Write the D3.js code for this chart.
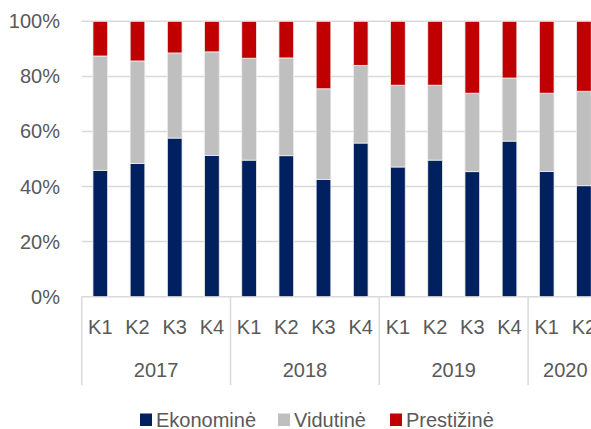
<!DOCTYPE html>
<html>
<head>
<meta charset="utf-8">
<script src="https://d3js.org/d3.v7.min.js"></script>
<style>
    body { margin: 0; background: #fff; }
    svg { display: block; }
    text { font-family: "Liberation Sans", Arial, sans-serif; fill: #595959; }
</style>
</head>
<body>
<svg width="591" height="429"></svg>
<script>
    // data (percent shares per quarter)
    const years = ["2017", "2018", "2019", "2020"];
    const quartersPerYear = [4, 4, 4, 2];
    const quarters = ["K1", "K2", "K3", "K4", "K1", "K2", "K3", "K4", "K1", "K2", "K3", "K4", "K1", "K2"];
    const ekonomine = [45.9, 48.4, 57.6, 51.3, 49.6, 51.2, 42.6, 55.8, 47.1, 49.6, 45.4, 56.5, 45.5, 40.3];
    const vidutine = [41.5, 37.2, 30.9, 37.6, 37.0, 35.5, 32.9, 28.2, 29.7, 27.2, 28.5, 22.9, 28.4, 34.3];
    const prestizine = [12.6, 14.4, 11.5, 11.1, 13.4, 13.3, 24.5, 16.0, 23.2, 23.2, 26.1, 20.6, 26.1, 25.4];
    const seriesNames = ["Ekonominė", "Vidutinė", "Prestižinė"];
    const colors = ["#002060", "#BFBFBF", "#C00000"];
    const yTicks = [0, 20, 40, 60, 80, 100];

    const svg = d3.select("svg");

    // plot area (the right part is cut off like in the original)
    const plotLeft = 81.7, step = 37.2;
    const plotRight = plotLeft + step * quarters.length;
    const plotTop = 21.3, plotBottom = 296.7;

    const rows = quarters.map((q, i) => ({
        idx: i, q: q,
        "Ekonominė": ekonomine[i], "Vidutinė": vidutine[i], "Prestižinė": prestizine[i]
    }));

    const x = d3.scaleBand()
        .domain(rows.map(d => d.idx))
        .range([plotLeft, plotRight])
        .paddingInner(0.605)
        .paddingOuter(0.3025);

    const y = d3.scaleLinear().domain([0, 100]).range([plotBottom, plotTop]);

    // gridlines
    svg.append("g")
        .selectAll("line")
        .data(yTicks)
        .join("line")
        .attr("x1", plotLeft).attr("x2", plotRight)
        .attr("y1", d => y(d)).attr("y2", d => y(d))
        .attr("stroke", "#d9d9d9")
        .attr("stroke-width", 1.5);

    // y labels
    svg.append("g")
        .selectAll("text")
        .data(yTicks)
        .join("text")
        .attr("x", 60)
        .attr("y", d => y(d))
        .attr("dy", "0.35em")
        .attr("text-anchor", "end")
        .style("font-size", "20px")
        .text(d => d + "%");

    // stacked bars
    const stacked = d3.stack().keys(seriesNames)(rows);
    svg.append("g")
        .selectAll("g")
        .data(stacked)
        .join("g")
        .attr("fill", (d, i) => colors[i])
        .selectAll("rect")
        .data(d => d)
        .join("rect")
        .attr("x", d => x(d.data.idx))
        .attr("width", x.bandwidth())
        .attr("y", d => y(d[1]))
        .attr("height", d => y(d[0]) - y(d[1]))
        .attr("stroke", "#eeeeee")
        .attr("stroke-width", 0.8);

    // year group separators
    const bounds = [0];
    quartersPerYear.forEach(n => bounds.push(bounds[bounds.length - 1] + n));
    const sepX = bounds.map(b => plotLeft + step * b);
    svg.append("g")
        .selectAll("line")
        .data(sepX)
        .join("line")
        .attr("x1", d => d).attr("x2", d => d)
        .attr("y1", plotBottom).attr("y2", 385)
        .attr("stroke", "#d9d9d9")
        .attr("stroke-width", 1.5);

    // quarter labels
    svg.append("g")
        .selectAll("text")
        .data(rows)
        .join("text")
        .attr("x", d => x(d.idx) + x.bandwidth() / 2)
        .attr("y", 327)
        .attr("dy", "0.35em")
        .attr("text-anchor", "middle")
        .style("font-size", "20px")
        .text(d => d.q);

    // year labels centred in their group
    svg.append("g")
        .selectAll("text")
        .data(years)
        .join("text")
        .attr("x", (d, i) => (sepX[i] + sepX[i + 1]) / 2)
        .attr("y", 369.5)
        .attr("dy", "0.35em")
        .attr("text-anchor", "middle")
        .style("font-size", "20px")
        .text(d => d);

    // legend
    const legendX = [140, 278, 390];
    const legend = svg.append("g")
        .selectAll("g")
        .data(seriesNames)
        .join("g")
        .attr("transform", (d, i) => `translate(${legendX[i]},419.5)`);
    legend.append("rect")
        .attr("x", 0).attr("y", -6)
        .attr("width", 12).attr("height", 12.5)
        .attr("fill", (d, i) => colors[i]);
    legend.append("text")
        .attr("x", 16)
        .attr("dy", "0.35em")
        .style("font-size", "20px")
        .text(d => d);
</script>
</body>
</html>
